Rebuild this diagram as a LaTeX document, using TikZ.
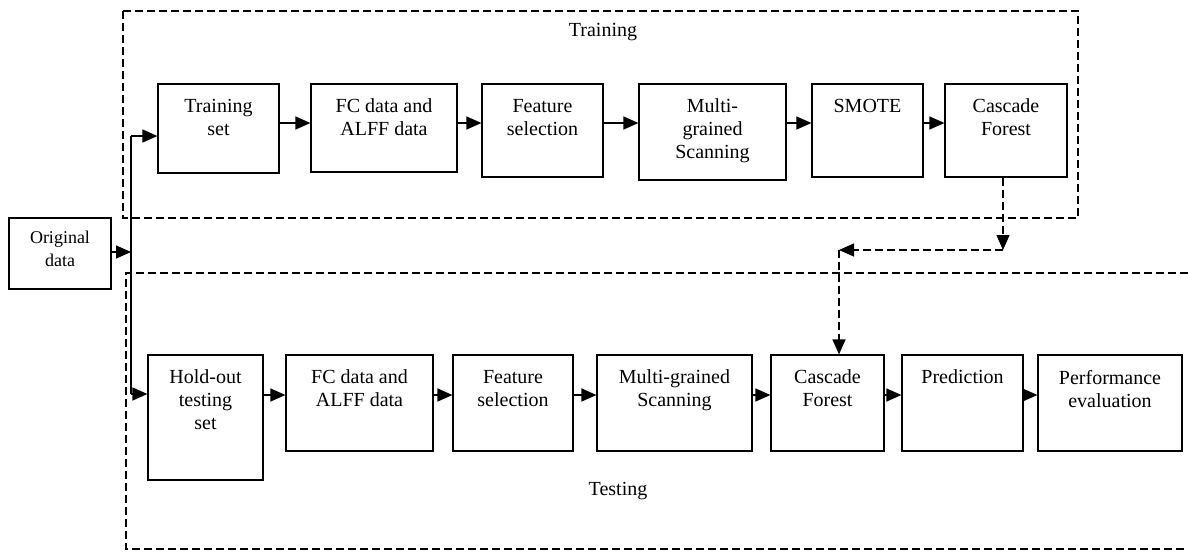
\documentclass[tikz,border=0pt]{standalone}
\usepackage{fontspec}
\setmainfont{Liberation Serif}
\usetikzlibrary{arrows.meta}

\tikzset{
  box/.style={draw, line width=1.2pt, inner sep=0pt},
  txt/.style={anchor=north, yshift=-12pt, align=center, font=\fontsize{20}{23}\selectfont},
  arr/.style={line width=1.3pt, -{Triangle[length=15pt,width=13pt]}},
  darr/.style={arr, dash pattern=on 8pt off 4pt},
  frame/.style={line width=1.3pt, dash pattern=on 8pt off 4pt}
}

\begin{document}
\begin{tikzpicture}[x=1pt, y=-1pt]
		\useasboundingbox (0,0) rectangle (1188,552);

		% frames
		\draw[frame] (123,11) rectangle (1078,218);
		\draw[frame] (1188,273) -- (126,273) -- (126,549) -- (1188,549);
		\node[font=\fontsize{20}{23}\selectfont] (trlabel) at (603,32) {Training};
		\node[font=\fontsize{20}{23}\selectfont] (telabel) at (618,491) {Testing};

		% input
		\node[box, minimum width=102pt, minimum height=71pt,
		      label={[txt, yshift=2pt, font=\fontsize{18}{23}\selectfont]north:Original\\data}] (orig) at (60,253.5) {};

		% training row
		\node[box, minimum width=121pt, minimum height=89pt, label={[txt]north:Training\\set}] (trset) at (218.5,128.5) {};
		\node[box, minimum width=146pt, minimum height=88pt, label={[txt]north:FC data and\\ALFF data}] (fc1) at (384,128) {};
		\node[box, minimum width=121pt, minimum height=93pt, label={[txt]north:Feature\\selection}] (fs1) at (542.5,130.5) {};
		\node[box, minimum width=147pt, minimum height=96pt, label={[txt]north:Multi-\\grained\\Scanning}] (mgs1) at (712.5,132) {};
		\node[box, minimum width=111pt, minimum height=93pt, label={[txt]north:SMOTE}] (smote) at (867.5,130.5) {};
		\node[box, minimum width=122pt, minimum height=93pt, label={[txt]north:Cascade\\Forest}] (casc1) at (1006,130.5) {};

		% testing row
		\node[box, minimum width=115pt, minimum height=125pt, label={[txt]north:Hold-out\\testing\\set}] (hold) at (205.5,417.5) {};
		\node[box, minimum width=147pt, minimum height=96pt, label={[txt]north:FC data and\\ALFF data}] (fc2) at (359.5,403) {};
		\node[box, minimum width=120pt, minimum height=96pt, label={[txt]north:Feature\\selection}] (fs2) at (513,403) {};
		\node[box, minimum width=155pt, minimum height=96pt, label={[txt]north:Multi-grained\\Scanning}] (mgs2) at (674.5,403) {};
		\node[box, minimum width=113pt, minimum height=96pt, label={[txt]north:Cascade\\Forest}] (casc2) at (827.5,403) {};
		\node[box, minimum width=121pt, minimum height=96pt, label={[txt]north:Prediction}] (pred) at (962.5,403) {};
		\node[box, minimum width=144pt, minimum height=96pt, label={[txt]north:Performance\\evaluation}] (perf) at (1110,403) {};

		% split of the data
		\coordinate (split) at (131,252);
		\coordinate (jt) at (131,136);
		\coordinate (jh) at (131,394);
		\draw[arr] (orig.east |- split) -- (split);
		\draw[line width=1.3pt] (jt) -- (jh);
		\draw[arr] (jt) -- (trset.west |- jt);
		\draw[arr] (jh) -- (hold.west |- jh);

		% flow
		\coordinate (r1) at (0,123);
		\coordinate (r2) at (0,395);
		\foreach \a/\b in {trset/fc1, fc1/fs1, fs1/mgs1, mgs1/smote, smote/casc1}
			\draw[arr] (\a.east |- r1) -- (\b.west |- r1);
		\foreach \a/\b in {hold/fc2, fc2/fs2, fs2/mgs2, mgs2/casc2, casc2/pred, pred/perf}
			\draw[arr] (\a.east |- r2) -- (\b.west |- r2);

		% trained model
		\coordinate (bend1) at (1003,250);
		\coordinate (bend2) at (839,250);
		\draw[darr] (casc1.south -| bend1) -- (bend1);
		\draw[darr] (bend1) -- (bend2);
		\draw[darr] (bend2) -- (casc2.north -| bend2);
	\end{tikzpicture}
\end{document}
